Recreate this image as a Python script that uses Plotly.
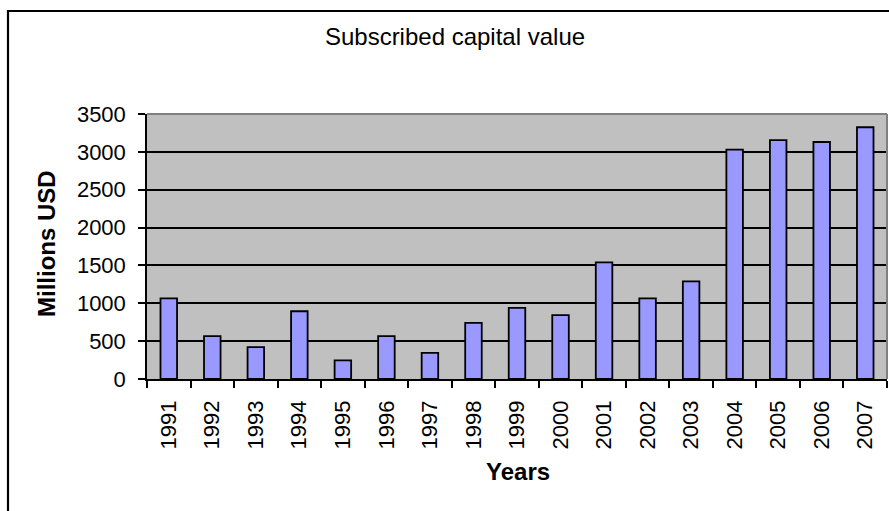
import plotly.graph_objects as go

# Subscribed capital value by year (millions USD)
years = ["1991", "1992", "1993", "1994", "1995", "1996", "1997", "1998", "1999",
         "2000", "2001", "2002", "2003", "2004", "2005", "2006", "2007"]
capital = [1065, 565, 420, 895, 247, 565, 345, 740, 940,
           843, 1540, 1065, 1290, 3030, 3155, 3130, 3325]

y_ticks = [0, 500, 1000, 1500, 2000, 2500, 3000, 3500]

FONT = "Liberation Sans, Arial, sans-serif"

fig = go.Figure()
fig.add_trace(go.Bar(
    x=years,
    y=capital,
    width=0.38,
    marker=dict(color="#9999FF", line=dict(color="black", width=1.8)),
    hoverinfo="x+y",
))

W, H = 889, 511
L, R, T, B = 147, 2, 114, 132
pw, ph = W - L - R, H - T - B


def px_to_paper_x(px):
    return (px - L) / pw


def px_to_paper_y(py):
    return (H - B - py) / ph


fig.update_layout(
    width=W,
    height=H,
    margin=dict(l=L, r=R, t=T, b=B),
    paper_bgcolor="white",
    plot_bgcolor="#C0C0C0",
    showlegend=False,
    bargap=0.62,
    font=dict(family=FONT, color="black"),
    title=dict(
        text="Subscribed capital value",
        font=dict(family=FONT, size=24, color="black"),
        x=455 / W, xref="container", xanchor="center",
        y=1 - 37 / H, yref="container", yanchor="middle",
    ),
    xaxis=dict(
        type="category",
        tickson="boundaries",
        ticks="outside",
        ticklen=7,
        tickwidth=1.5,
        tickcolor="black",
        tickangle=-90,
        tickfont=dict(family=FONT, size=22, color="black"),
        showline=True,
        linecolor="black",
        linewidth=1.5,
        showgrid=False,
        ticklabelstandoff=11,
    ),
    yaxis=dict(
        range=[0, 3500],
        tickvals=y_ticks,
        ticks="outside",
        ticklen=7,
        tickwidth=1.5,
        tickcolor="black",
        tickfont=dict(family=FONT, size=22, color="black"),
        showline=True,
        linecolor="black",
        linewidth=1.5,
        showgrid=True,
        gridcolor="black",
        gridwidth=1.5,
        zeroline=False,
        ticklabelstandoff=8,
    ),
    annotations=[
        dict(
            text="<b>Millions USD</b>",
            textangle=-90,
            font=dict(family=FONT, size=24, color="black"),
            xref="paper", yref="paper",
            x=px_to_paper_x(46), y=px_to_paper_y(244),
            xanchor="center", yanchor="middle",
            showarrow=False,
        ),
        dict(
            text="<b>Years</b>",
            font=dict(family=FONT, size=24, color="black"),
            xref="paper", yref="paper",
            x=px_to_paper_x(518), y=px_to_paper_y(471),
            xanchor="center", yanchor="middle",
            showarrow=False,
        ),
    ],
    shapes=[
        # outer chart frame
        dict(
            type="rect", xref="paper", yref="paper",
            x0=px_to_paper_x(8), x1=px_to_paper_x(900),
            y0=px_to_paper_y(520), y1=px_to_paper_y(11),
            line=dict(color="black", width=2.2),
            fillcolor="rgba(0,0,0,0)", layer="below",
        ),
        # grey plot-area border on top and right
        dict(
            type="line", xref="paper", yref="paper",
            x0=0, x1=1, y0=1, y1=1,
            line=dict(color="#808080", width=2), layer="above",
        ),
        dict(
            type="line", xref="paper", yref="paper",
            x0=1, x1=1, y0=0, y1=1,
            line=dict(color="#808080", width=2), layer="above",
        ),
    ],
)

fig.write_html("out.html")
